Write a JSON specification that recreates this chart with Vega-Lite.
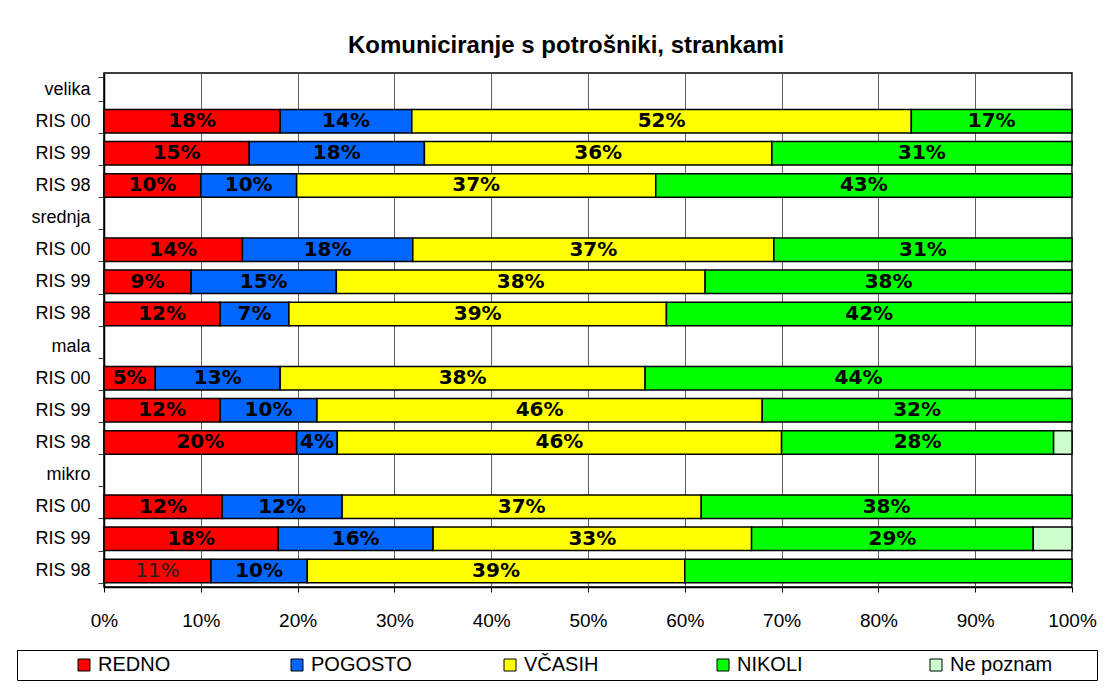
{
  "$schema": "https://vega.github.io/schema/vega-lite/v6.json",
  "width": 968,
  "height": 514,
  "autosize": {"type": "none"},
  "padding": {"left": 104, "top": 73, "right": 35, "bottom": 101},
  "background": "white",
  "config": {"view": {"stroke": "#000", "strokeWidth": 1.5}, "font": "Liberation Sans"},
  "title": {"text": "Komuniciranje s potrošniki, strankami", "fontSize": 24, "font": "Liberation Sans", "fontWeight": "bold", "anchor": "middle", "dx": -22, "offset": 6, "color": "#000"},
  "data": {"values": [
    {"row": "velika|RIS 00", "cat": "REDNO", "value": 18.2, "lab": "18%"},
    {"row": "velika|RIS 00", "cat": "POGOSTO", "value": 13.6, "lab": "14%"},
    {"row": "velika|RIS 00", "cat": "VČASIH", "value": 51.6, "lab": "52%"},
    {"row": "velika|RIS 00", "cat": "NIKOLI", "value": 16.6, "lab": "17%"},
    {"row": "velika|RIS 99", "cat": "REDNO", "value": 15.0, "lab": "15%"},
    {"row": "velika|RIS 99", "cat": "POGOSTO", "value": 18.1, "lab": "18%"},
    {"row": "velika|RIS 99", "cat": "VČASIH", "value": 35.9, "lab": "36%"},
    {"row": "velika|RIS 99", "cat": "NIKOLI", "value": 31.0, "lab": "31%"},
    {"row": "velika|RIS 98", "cat": "REDNO", "value": 10.0, "lab": "10%"},
    {"row": "velika|RIS 98", "cat": "POGOSTO", "value": 9.9, "lab": "10%"},
    {"row": "velika|RIS 98", "cat": "VČASIH", "value": 37.1, "lab": "37%"},
    {"row": "velika|RIS 98", "cat": "NIKOLI", "value": 43.0, "lab": "43%"},
    {"row": "srednja|RIS 00", "cat": "REDNO", "value": 14.3, "lab": "14%"},
    {"row": "srednja|RIS 00", "cat": "POGOSTO", "value": 17.6, "lab": "18%"},
    {"row": "srednja|RIS 00", "cat": "VČASIH", "value": 37.3, "lab": "37%"},
    {"row": "srednja|RIS 00", "cat": "NIKOLI", "value": 30.8, "lab": "31%"},
    {"row": "srednja|RIS 99", "cat": "REDNO", "value": 9.0, "lab": "9%"},
    {"row": "srednja|RIS 99", "cat": "POGOSTO", "value": 15.0, "lab": "15%"},
    {"row": "srednja|RIS 99", "cat": "VČASIH", "value": 38.1, "lab": "38%"},
    {"row": "srednja|RIS 99", "cat": "NIKOLI", "value": 37.9, "lab": "38%"},
    {"row": "srednja|RIS 98", "cat": "REDNO", "value": 12.0, "lab": "12%"},
    {"row": "srednja|RIS 98", "cat": "POGOSTO", "value": 7.1, "lab": "7%"},
    {"row": "srednja|RIS 98", "cat": "VČASIH", "value": 39.0, "lab": "39%"},
    {"row": "srednja|RIS 98", "cat": "NIKOLI", "value": 41.9, "lab": "42%"},
    {"row": "mala|RIS 00", "cat": "REDNO", "value": 5.3, "lab": "5%"},
    {"row": "mala|RIS 00", "cat": "POGOSTO", "value": 12.9, "lab": "13%"},
    {"row": "mala|RIS 00", "cat": "VČASIH", "value": 37.7, "lab": "38%"},
    {"row": "mala|RIS 00", "cat": "NIKOLI", "value": 44.1, "lab": "44%"},
    {"row": "mala|RIS 99", "cat": "REDNO", "value": 12.0, "lab": "12%"},
    {"row": "mala|RIS 99", "cat": "POGOSTO", "value": 10.0, "lab": "10%"},
    {"row": "mala|RIS 99", "cat": "VČASIH", "value": 46.0, "lab": "46%"},
    {"row": "mala|RIS 99", "cat": "NIKOLI", "value": 32.0, "lab": "32%"},
    {"row": "mala|RIS 98", "cat": "REDNO", "value": 19.9, "lab": "20%"},
    {"row": "mala|RIS 98", "cat": "POGOSTO", "value": 4.2, "lab": "4%"},
    {"row": "mala|RIS 98", "cat": "VČASIH", "value": 45.9, "lab": "46%"},
    {"row": "mala|RIS 98", "cat": "NIKOLI", "value": 28.1, "lab": "28%"},
    {"row": "mala|RIS 98", "cat": "Ne poznam", "value": 1.9, "lab": ""},
    {"row": "mikro|RIS 00", "cat": "REDNO", "value": 12.2, "lab": "12%"},
    {"row": "mikro|RIS 00", "cat": "POGOSTO", "value": 12.4, "lab": "12%"},
    {"row": "mikro|RIS 00", "cat": "VČASIH", "value": 37.1, "lab": "37%"},
    {"row": "mikro|RIS 00", "cat": "NIKOLI", "value": 38.3, "lab": "38%"},
    {"row": "mikro|RIS 99", "cat": "REDNO", "value": 18.0, "lab": "18%"},
    {"row": "mikro|RIS 99", "cat": "POGOSTO", "value": 16.0, "lab": "16%"},
    {"row": "mikro|RIS 99", "cat": "VČASIH", "value": 32.9, "lab": "33%"},
    {"row": "mikro|RIS 99", "cat": "NIKOLI", "value": 29.1, "lab": "29%"},
    {"row": "mikro|RIS 99", "cat": "Ne poznam", "value": 4.0, "lab": ""},
    {"row": "mikro|RIS 98", "cat": "REDNO", "value": 11.05, "lab": "11%"},
    {"row": "mikro|RIS 98", "cat": "POGOSTO", "value": 9.95, "lab": "10%"},
    {"row": "mikro|RIS 98", "cat": "VČASIH", "value": 39.0, "lab": "39%"},
    {"row": "mikro|RIS 98", "cat": "NIKOLI", "value": 40.0, "lab": ""}
  ]},
  "transform": [
    {"calculate": "indexof(['REDNO','POGOSTO','VČASIH','NIKOLI','Ne poznam'], datum.cat)", "as": "ord"},
    {"stack": "value", "groupby": ["row"], "sort": [{"field": "ord", "order": "ascending"}], "offset": "normalize", "as": ["v0", "v1"]},
    {"calculate": "(datum.v0 + datum.v1) / 2", "as": "mid"}
  ],
  "encoding": {
    "y": {
      "field": "row",
      "type": "nominal",
      "scale": {
        "domain": ["velika", "velika|RIS 00", "velika|RIS 99", "velika|RIS 98",
                   "srednja", "srednja|RIS 00", "srednja|RIS 99", "srednja|RIS 98",
                   "mala", "mala|RIS 00", "mala|RIS 99", "mala|RIS 98",
                   "mikro", "mikro|RIS 00", "mikro|RIS 99", "mikro|RIS 98"],
        "paddingInner": 0.27,
        "paddingOuter": 0.135
      },
      "axis": {
        "title": null,
        "labelExpr": "indexof(datum.label,'|') >= 0 ? split(datum.label,'|')[1] : datum.label",
        "tickBand": "extent",
        "tickSize": 6,
        "tickColor": "#404040",
        "labelFontSize": 18,
        "labelFont": "Liberation Sans",
        "labelColor": "#000",
        "labelPadding": 8,
        "domainColor": "#000",
        "domainWidth": 1.5,
        "grid": false
      }
    }
  },
  "layer": [
    {
      "mark": {"type": "bar", "stroke": "#000", "strokeWidth": 1.5},
      "encoding": {
        "x": {
          "field": "v0",
          "type": "quantitative",
          "scale": {"domain": [0, 1], "nice": false},
          "axis": {
            "title": null,
            "format": ".0%",
            "values": [0, 0.1, 0.2, 0.3, 0.4, 0.5, 0.6, 0.7, 0.8, 0.9, 1],
            "grid": true,
            "gridColor": "#606060",
            "gridWidth": 1,
            "tickSize": 5,
            "tickColor": "#000",
            "domainColor": "#000",
            "domainWidth": 1.5,
            "labelFontSize": 19,
            "labelFont": "Liberation Sans",
            "labelColor": "#000",
            "labelPadding": 19,
            "labelFlush": false
          }
        },
        "x2": {"field": "v1"},
        "color": {
          "field": "cat",
          "type": "nominal",
          "scale": {
            "domain": ["REDNO", "POGOSTO", "VČASIH", "NIKOLI", "Ne poznam"],
            "range": ["#FF0000", "#0066FF", "#FFFF00", "#00FF00", "#CCFFCC"]
          },
          "legend": {
            "title": " ",
            "titleOrient": "right",
            "titlePadding": 40,
            "orient": "none",
            "legendX": -87,
            "legendY": 577,
            "direction": "horizontal",
            "columns": 5,
            "gridAlign": "all",
            "columnPadding": 34,
            "symbolType": "square",
            "symbolSize": 144,
            "symbolStrokeColor": "#000",
            "symbolStrokeWidth": 1,
            "symbolOffset": 52,
            "labelFont": "Liberation Sans",
            "labelFontSize": 20,
            "labelColor": "#000",
            "labelOffset": 4,
            "labelLimit": 0,
            "strokeColor": "#000",
            "padding": 5
          }
        }
      }
    },
    {
      "transform": [{"filter": "datum.lab != '' && !(datum.row == 'mikro|RIS 98' && datum.cat == 'REDNO')"}],
      "mark": {"type": "text", "font": "DejaVu Sans", "fontWeight": "bold", "fontSize": 20, "color": "#000", "baseline": "middle", "align": "center"},
      "encoding": {
        "x": {"field": "mid", "type": "quantitative"},
        "text": {"field": "lab"}
      }
    },
    {
      "transform": [{"filter": "datum.row == 'mikro|RIS 98' && datum.cat == 'REDNO'"}],
      "mark": {"type": "text", "font": "DejaVu Sans", "fontWeight": "normal", "fontSize": 20, "color": "#222", "baseline": "middle", "align": "center"},
      "encoding": {
        "x": {"field": "mid", "type": "quantitative"},
        "text": {"field": "lab"}
      }
    }
  ]
}
